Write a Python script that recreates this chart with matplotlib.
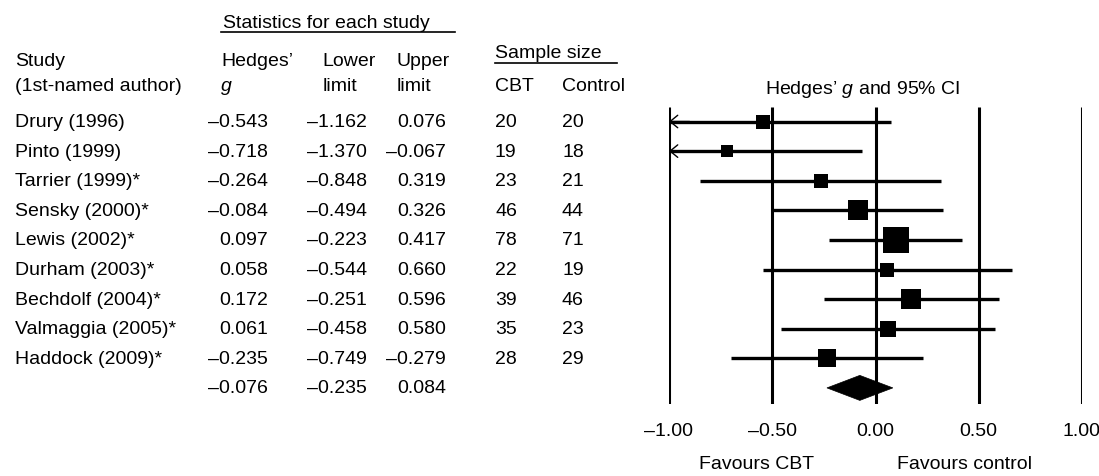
import numpy as np
import matplotlib
matplotlib.use('Agg')
import matplotlib.pyplot as plt
from matplotlib.patches import Polygon
from matplotlib.transforms import blended_transform_factory

plt.rcParams['font.family'] = ['Liberation Sans', 'DejaVu Sans']
plt.rcParams['mathtext.fontset'] = 'custom'
plt.rcParams['mathtext.rm'] = 'Liberation Sans'
plt.rcParams['mathtext.it'] = 'Liberation Sans:italic'

# studies in the meta-analysis (table as printed)
studies = ['Drury (1996)', 'Pinto (1999)', 'Tarrier (1999)*', 'Sensky (2000)*',
           'Lewis (2002)*', 'Durham (2003)*', 'Bechdolf (2004)*',
           'Valmaggia (2005)*', 'Haddock (2009)*']
g_txt = ['–0.543', '–0.718', '–0.264', '–0.084', '0.097', '0.058', '0.172',
         '0.061', '–0.235', '–0.076']
lo_txt = ['–1.162', '–1.370', '–0.848', '–0.494', '–0.223', '–0.544', '–0.251',
          '–0.458', '–0.749', '–0.235']
hi_txt = ['0.076', '–0.067', '0.319', '0.326', '0.417', '0.660', '0.596',
          '0.580', '–0.279', '0.084']
n_cbt = [20, 19, 23, 46, 78, 22, 39, 35, 28]
n_ctrl = [20, 18, 21, 44, 71, 19, 46, 23, 29]

# values as drawn in the forest plot
g = np.array([-0.543, -0.718, -0.264, -0.084, 0.097, 0.058, 0.172, 0.061, -0.235])
ci_lo = np.array([-1.162, -1.370, -0.848, -0.494, -0.223, -0.544, -0.251, -0.458, -0.700])
ci_hi = np.array([0.076, -0.067, 0.319, 0.326, 0.417, 0.660, 0.596, 0.580, 0.230])
pooled = (-0.076, -0.235, 0.084)

ticks = [-1.0, -0.5, 0.0, 0.5, 1.0]
tick_labels = ['–1.00', '–0.50', '0.00', '0.50', '1.00']

W, H = 1099, 477
FS = 14
fig = plt.figure(figsize=(W / 100, H / 100), dpi=100)

row0, step = 122.5, 29.6
top_px, bot_px = 108, 405
left_px, right_px = 669, 1082
ax = fig.add_axes([left_px / W, 1 - bot_px / H, (right_px - left_px) / W, (bot_px - top_px) / H])
ax.set_xlim(-1, 1)
ax.set_ylim((bot_px - row0) / step, (top_px - row0) / step)
for s in ax.spines.values():
    s.set_visible(False)
ax.set_yticks([])
ax.set_xticks(ticks, tick_labels, fontsize=FS)
ax.tick_params(axis='x', length=0, pad=13)

ax.vlines(ticks, *ax.get_ylim(), colors='black', lw=2.2)

rows = np.arange(len(studies))
# weights from CI width -> square side
se = (ci_hi - ci_lo) / 3.92
side_px = 4.2 / se
ax.hlines(rows, np.maximum(ci_lo, -1), ci_hi, colors='black', lw=2.4)
for i in rows:
    ax.plot(g[i], i, marker='s', ms=side_px[i] * 0.72, color='black', mec='black', mew=0)
    if ci_lo[i] < -1:
        ax.annotate('', xy=(-1, i), xytext=(-0.9, i),
                    arrowprops=dict(arrowstyle='->,head_length=0.55,head_width=0.45',
                                    lw=1, color='black', shrinkA=0, shrinkB=0))

yd = len(studies)
half = 12.5 / step
est, plo, phi = pooled
ax.add_patch(Polygon([(plo, yd), (est, yd - half), (phi, yd), (est, yd + half)],
                     closed=True, facecolor='black', edgecolor='black', lw=0.5))

def yrow(px):
    return (px - row0) / step

ax.text(-0.577, yrow(465), 'Favours CBT', ha='center', va='center', fontsize=FS)
ax.text(0.432, yrow(465), 'Favours control', ha='center', va='center', fontsize=FS)
ax.text(-0.063, yrow(90), 'Hedges\u2019 $g$ and 95% CI', ha='center', va='center', fontsize=FS)

# table on the left
tr = blended_transform_factory(fig.transFigure, ax.transData)
def col(px):
    return px / W

for i in range(len(studies) + 1):
    if i < len(studies):
        ax.text(col(15), i, studies[i], transform=tr, ha='left', va='center', fontsize=FS)
        ax.text(col(495), i, str(n_cbt[i]), transform=tr, ha='left', va='center', fontsize=FS)
        ax.text(col(562), i, str(n_ctrl[i]), transform=tr, ha='left', va='center', fontsize=FS)
    ax.text(col(268), i, g_txt[i], transform=tr, ha='right', va='center', fontsize=FS)
    ax.text(col(367), i, lo_txt[i], transform=tr, ha='right', va='center', fontsize=FS)
    ax.text(col(446), i, hi_txt[i], transform=tr, ha='right', va='center', fontsize=FS)

def ftext(x, y, s, **kw):
    fig.text(x / W, 1 - y / H, s, fontsize=FS, va='center', ha='left', **kw)

ftext(223, 23, 'Statistics for each study')
ftext(495, 53, 'Sample size')
ftext(15, 62, 'Study')
ftext(15, 87, '(1st-named author)')
ftext(221, 62, 'Hedges\u2019')
ftext(221, 87, 'g', style='italic')
ftext(322, 62, 'Lower')
ftext(323, 87, 'limit')
ftext(397, 62, 'Upper')
ftext(397, 87, 'limit')
ftext(495, 87, 'CBT')
ftext(562, 87, 'Control')

fig.add_artist(plt.Line2D([221 / W, 455 / W], [1 - 33 / H, 1 - 33 / H], color='black', lw=1.2))
fig.add_artist(plt.Line2D([495 / W, 617 / W], [1 - 64 / H, 1 - 64 / H], color='black', lw=1.2))

fig.savefig('out.png', dpi=100)
